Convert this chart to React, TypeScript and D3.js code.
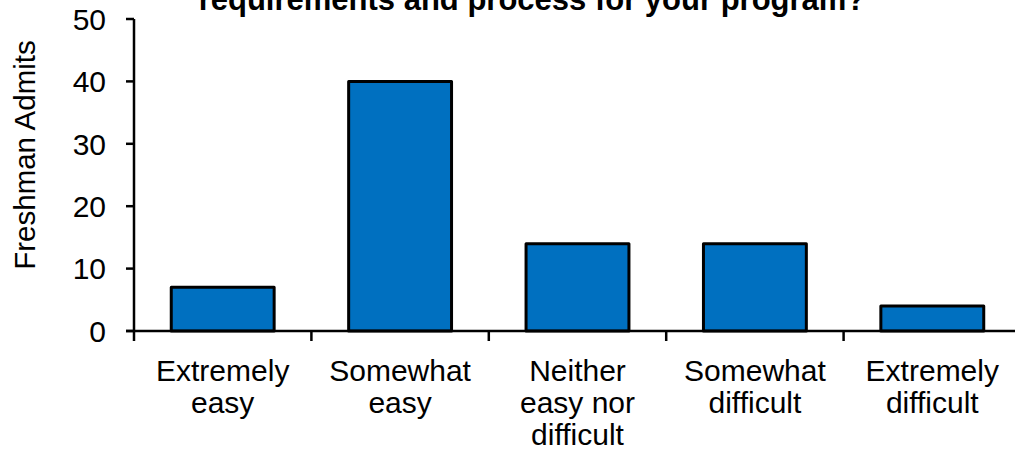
import React from "react";
import * as d3 from "d3";

const categories: string[][] = [
  ["Extremely", "easy"],
  ["Somewhat", "easy"],
  ["Neither", "easy nor", "difficult"],
  ["Somewhat", "difficult"],
  ["Extremely", "difficult"],
];
const values: number[] = [7, 40, 14, 14, 4];
const yTicks: number[] = [0, 10, 20, 30, 40, 50];
const titleLine = "requirements and process for your program?";
const yTitle = "Freshman Admits";

const W = 1015;
const H = 460;
const FONT = "'Liberation Sans', Arial, sans-serif";

export default function App() {
  const keys = categories.map((c) => c.join(" "));
  const x = d3
    .scaleBand<string>()
    .domain(keys)
    .range([134, 1021])
    .paddingInner(0.42)
    .paddingOuter(0.21);
  const y = d3.scaleLinear().domain([0, 50]).range([331, 19]);
  const bandStarts = keys.map((_, i) => 134 + i * ((1021 - 134) / keys.length));

  return (
    <svg
      width={W}
      height={H}
      style={{ position: "fixed", left: 0, top: 0, background: "#fff" }}
      fontFamily={FONT}
    >
      <rect x={0} y={0} width={W} height={H} fill="#fff" />
      <text
        x={532}
        y={10}
        textAnchor="middle"
        fontWeight="bold"
        fontSize={31}
        fill="#000"
      >
        {titleLine}
      </text>
      <text
        transform={`translate(35,155) rotate(-90)`}
        textAnchor="middle"
        fontSize={29.5}
        fill="#000"
      >
        {yTitle}
      </text>
      {values.map((v, i) => (
        <rect
          key={i}
          x={x(keys[i])}
          y={y(v)}
          width={x.bandwidth()}
          height={y(0) - y(v)}
          fill="#0070C0"
          stroke="#000"
          strokeWidth={3}
          strokeLinejoin="round"
        />
      ))}
      <line x1={134} x2={134} y1={y(50)} y2={y(0)} stroke="#000" strokeWidth={2.5} />
      <line x1={126} x2={1021} y1={y(0)} y2={y(0)} stroke="#000" strokeWidth={2.5} />
      {yTicks.map((t) => (
        <g key={t}>
          <line x1={126} x2={134} y1={y(t)} y2={y(t)} stroke="#000" strokeWidth={2.5} />
          <text
            x={106}
            y={y(t)}
            dy="0.36em"
            textAnchor="end"
            fontSize={30}
            fill="#000"
          >
            {t}
          </text>
        </g>
      ))}
      {bandStarts.map((b, i) => (
        <line key={i} x1={b} x2={b} y1={y(0)} y2={y(0) + 10} stroke="#000" strokeWidth={2.5} />
      ))}
      {categories.map((lines, i) => {
        const cx = (x(keys[i]) as number) + x.bandwidth() / 2;
        return (
          <text key={i} textAnchor="middle" fontSize={30} fill="#000">
            {lines.map((l, j) => (
              <tspan key={j} x={cx} y={380.5 + j * 32}>
                {l}
              </tspan>
            ))}
          </text>
        );
      })}
    </svg>
  );
}
